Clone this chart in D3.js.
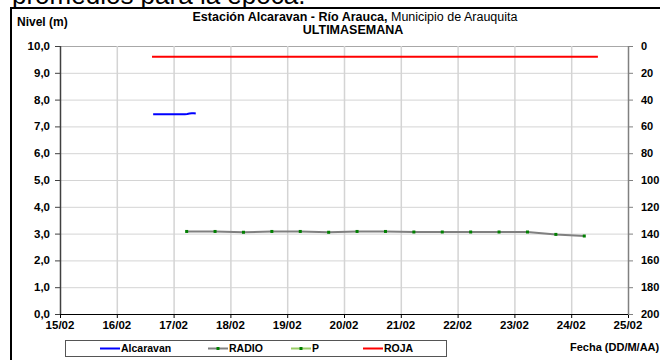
<!DOCTYPE html>
<html><head><meta charset="utf-8">
<script src="https://cdn.jsdelivr.net/npm/d3@7"></script>
<style>
html,body{margin:0;padding:0;background:#fff;}
svg{display:block;font-family:"Liberation Sans",Arial,sans-serif;}
</style></head>
<body>
<script>
// ---- data ----
const dayTicks = [15,16,17,18,19,20,21,22,23,24,25];
const dayLabels = ["15/02","16/02","17/02","18/02","19/02","20/02","21/02","22/02","23/02","24/02","25/02"];
const levelTicks = [0,1,2,3,4,5,6,7,8,9,10];
const rainTicks = [0,20,40,60,80,100,120,140,160,180,200];

const alcaravanDays = [16.64,16.68,16.72,16.76,16.80,16.84,16.88,16.92,16.96,17.00,17.04,17.08,17.12,17.16,17.20,17.24,17.28,17.32,17.36,17.39];
const alcaravanVals = [7.45,7.45,7.45,7.45,7.45,7.45,7.45,7.45,7.45,7.45,7.45,7.45,7.45,7.45,7.45,7.46,7.48,7.49,7.49,7.48];

const radioDays = [17.23,17.73,18.23,18.73,19.23,19.73,20.23,20.73,21.23,21.73,22.23,22.73,23.23,23.73,24.23];
const radioVals = [3.08,3.08,3.05,3.08,3.08,3.05,3.08,3.08,3.06,3.06,3.06,3.06,3.06,2.97,2.91];

const rojaDays = [16.62,24.47];
const rojaVals = [9.6,9.6];

const legendNames = ["Alcaravan","RADIO","P","ROJA"];

// ---- drawing ----
const W=660,H=360;
const svg=d3.select("body").append("svg").attr("width",W).attr("height",H);

const x=d3.scaleLinear().domain([15,25]).range([60,628]);
const y=d3.scaleLinear().domain([0,10]).range([314,46]);
const y2=d3.scaleLinear().domain([0,200]).range([46,314]);

// top cut text
svg.append("text").attr("x",12).attr("y",4).attr("font-size",26)
  .attr("fill","#000").text("promedios para la época.");

// frame
svg.append("line").attr("x1",10).attr("x2",W).attr("y1",8).attr("y2",8).attr("stroke","#000").attr("stroke-width",2);
svg.append("line").attr("x1",11).attr("x2",11).attr("y1",7).attr("y2",H).attr("stroke","#000").attr("stroke-width",2);

// grid
const g=svg.append("g");
g.selectAll("line.hg").data(levelTicks.filter(d=>d>0)).enter().append("line")
  .attr("x1",x(15)).attr("x2",d=>d===10?x(25)+4:x(25)).attr("y1",d=>y(d)+0.5).attr("y2",d=>y(d)+0.5)
  .attr("stroke",d=>d===10?"#a8a8a8":"#d4d4d4").attr("stroke-width",1);
g.selectAll("line.vg").data(dayTicks.filter(d=>d>15&&d<25)).enter().append("line")
  .attr("x1",d=>x(d)+0.5).attr("x2",d=>x(d)+0.5).attr("y1",y(10)).attr("y2",y(0))
  .attr("stroke","#d4d4d4").attr("stroke-width",1.5);

// axes
const fmt=d=>d3.format(".1f")(d).replace(".",",");
const ax=svg.append("g").attr("font-weight","bold").attr("font-size",11.5);
// left
ax.append("line").attr("x1",x(15)+0.5).attr("x2",x(15)+0.5).attr("y1",y(10)).attr("y2",y(0)).attr("stroke","#404040").attr("stroke-width",1.5);
ax.selectAll("line.lt").data(levelTicks).enter().append("line")
  .attr("x1",x(15)-5).attr("x2",x(15)).attr("y1",d=>y(d)+0.5).attr("y2",d=>y(d)+0.5).attr("stroke","#404040");
ax.selectAll("text.lt").data(levelTicks).enter().append("text")
  .attr("x",50).attr("y",d=>y(d)+4).attr("text-anchor","end").text(fmt);
// bottom
ax.append("line").attr("x1",x(15)).attr("x2",x(25)).attr("y1",y(0)+0.5).attr("y2",y(0)+0.5).attr("stroke","#000").attr("stroke-width",1.2);
ax.selectAll("line.bt").data(dayTicks).enter().append("line")
  .attr("x1",d=>x(d)+0.5).attr("x2",d=>x(d)+0.5).attr("y1",y(0)).attr("y2",y(0)+4).attr("stroke","#000");
ax.selectAll("text.bt").data(dayTicks).enter().append("text")
  .attr("x",d=>x(d)).attr("y",y(0)+15).attr("text-anchor","middle").text((d,i)=>dayLabels[i]);
// right
ax.append("line").attr("x1",x(25)+0.5).attr("x2",x(25)+0.5).attr("y1",y2(0)).attr("y2",y2(200)).attr("stroke","#808080").attr("stroke-width",1.5);
ax.selectAll("line.rt").data(rainTicks).enter().append("line")
  .attr("x1",x(25)).attr("x2",x(25)+5).attr("y1",d=>y2(d)+0.5).attr("y2",d=>y2(d)+0.5).attr("stroke","#808080");
ax.selectAll("text.rt").data(rainTicks).enter().append("text")
  .attr("x",641).attr("y",d=>y2(d)+4).attr("text-anchor","start").attr("font-size",11).text(d=>d);

// titles
svg.append("text").attr("x",17).attr("y",26).attr("font-size",12).attr("font-weight","bold").text("Nivel (m)");
const t=svg.append("text").attr("x",355).attr("y",21).attr("font-size",12.5).attr("text-anchor","middle");
t.append("tspan").attr("font-weight","bold").text("Estación Alcaravan - Río Arauca,");
t.append("tspan").text(" Municipio de Arauquita");
svg.append("text").attr("x",353).attr("y",34).attr("font-size",12.5).attr("font-weight","bold")
  .attr("text-anchor","middle").text("ULTIMASEMANA");
svg.append("text").attr("x",570).attr("y",351).attr("font-size",11).attr("font-weight","bold").text("Fecha (DD/M/AA)");

// series
const line=d3.line().x(d=>x(d[0])).y(d=>y(d[1]));
svg.append("path").datum(rojaDays.map((d,i)=>[d,rojaVals[i]])).attr("d",line)
  .attr("fill","none").attr("stroke","#ff0000").attr("stroke-width",2);
svg.append("path").datum(alcaravanDays.map((d,i)=>[d,alcaravanVals[i]])).attr("d",line)
  .attr("fill","none").attr("stroke","#0000ff").attr("stroke-width",2);
const rd=radioDays.map((d,i)=>[d,radioVals[i]]);
svg.append("path").datum(rd).attr("d",line)
  .attr("fill","none").attr("stroke","#808080").attr("stroke-width",2);
svg.selectAll("rect.m").data(rd).enter().append("rect")
  .attr("x",d=>x(d[0])-1.5).attr("y",d=>y(d[1])-1.5).attr("width",3).attr("height",3).attr("fill","#008000");

// legend
const lg=svg.append("g").attr("font-size",10.5).attr("font-weight","bold");
lg.append("rect").attr("x",65.5).attr("y",340.5).attr("width",381).attr("height",16)
  .attr("fill","#fff").attr("stroke","#555").attr("stroke-width",1);
const lx=[100,208,291,363];
const lcol=["#0000ff","#808080","#99cc66","#ff0000"];
legendNames.forEach((n,i)=>{
  lg.append("line").attr("x1",lx[i]).attr("x2",lx[i]+20).attr("y1",348.5).attr("y2",348.5).attr("stroke",lcol[i]).attr("stroke-width",2);
  if(i===1||i===2) lg.append("rect").attr("x",lx[i]+8.5).attr("y",347).attr("width",3).attr("height",3).attr("fill","#008000");
  lg.append("text").attr("x",lx[i]+21).attr("y",352).text(n);
});
</script>
</body></html>
